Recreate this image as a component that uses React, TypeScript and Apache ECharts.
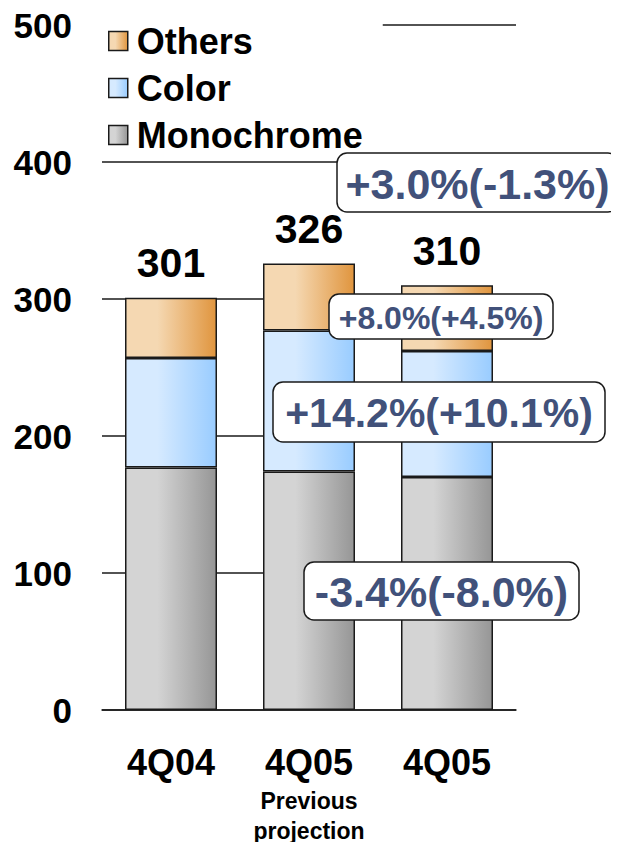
import React, { useEffect, useRef } from "react";
import * as echarts from "echarts";

const categories = ["4Q04", "4Q05", "4Q05"];
const subLabels = ["", "Previous\nprojection", ""];
const monochrome = [177, 174, 170];
const color = [80, 103, 92];
const others = [44, 49, 48];
const totals = [301, 326, 310];
const yTicks = [0, 100, 200, 300, 400, 500];
const annotations = [
  { text: "+3.0%(-1.3%)", x: 337, y: 153, w: 281, h: 59, size: 43 },
  { text: "+8.0%(+4.5%)", x: 329, y: 294, w: 224, h: 45, size: 32 },
  { text: "+14.2%(+10.1%)", x: 273, y: 382, w: 332, h: 60, size: 41 },
  { text: "-3.4%(-8.0%)", x: 304, y: 562, w: 275, h: 58, size: 43 },
];

const FONT = "'Liberation Sans', Arial, sans-serif";

const grad = (a: string, b: string) =>
  new echarts.graphic.LinearGradient(0, 0, 1, 0, [
    { offset: 0, color: a },
    { offset: 0.35, color: a },
    { offset: 1, color: b },
  ]);

export default function App() {
  const ref = useRef<HTMLDivElement>(null);
  useEffect(() => {
    if (!ref.current) return;
    const chart = echarts.init(ref.current, null, { renderer: "svg" });
    const barBase = {
      type: "bar" as const,
      stack: "total",
      barWidth: 92,
    };
    const borderStyle = { borderColor: "#1a1a1a", borderWidth: 1.5 };
    chart.setOption({
      animation: false,
      backgroundColor: "#fff",
      grid: { left: 102, right: 103, top: 25, bottom: 140 },
      legend: {
        orient: "vertical",
        left: 100,
        top: 6,
        padding: [15, 20, 2, 8],
        backgroundColor: "#fff",
        icon: "rect",
        itemWidth: 19,
        itemHeight: 19,
        itemGap: 7,
        selectedMode: false,
        data: ["Others", "Color", "Monochrome"],
        itemStyle: { borderColor: "#1a1a1a", borderWidth: 1.5 },
        textStyle: {
          fontFamily: FONT,
          fontWeight: "bold",
          fontSize: 36,
          color: "#000",
          lineHeight: 40,
          padding: [0, 0, 0, 4],
        },
      },
      xAxis: {
        type: "category",
        data: categories,
        axisLine: { lineStyle: { color: "#1a1a1a", width: 1.5 } },
        axisTick: { inside: true, length: 11, lineStyle: { color: "#1a1a1a", width: 1.5 } },
        axisLabel: {
          margin: 28,
          formatter: (v: string, i: number) =>
            subLabels[i]
              ? `{a|${v}}\n` + subLabels[i].split("\n").map((s) => `{b|${s}}`).join("\n")
              : `{a|${v}}`,
          rich: {
            a: { fontFamily: FONT, fontWeight: "bold", fontSize: 36, lineHeight: 48, color: "#000" },
            b: { fontFamily: FONT, fontWeight: "bold", fontSize: 23, lineHeight: 30, color: "#000" },
          },
        },
      },
      yAxis: {
        type: "value",
        min: 0,
        max: 500,
        interval: 100,
        axisLine: { show: false },
        axisTick: { show: false },
        splitLine: { lineStyle: { color: "#1a1a1a", width: 1.5 } },
        axisLabel: {
          margin: 30,
          fontFamily: FONT,
          fontWeight: "bold",
          fontSize: 35,
          color: "#000",
          formatter: (v: number) => (yTicks.includes(v) ? String(v) : ""),
        },
      },
      series: [
        {
          ...barBase,
          name: "Monochrome",
          data: monochrome,
          itemStyle: { color: grad("#d4d4d4", "#969696"), ...borderStyle },
        },
        {
          ...barBase,
          name: "Color",
          data: color,
          itemStyle: { color: grad("#d6eaff", "#99ccff"), ...borderStyle },
        },
        {
          ...barBase,
          name: "Others",
          data: others,
          itemStyle: { color: grad("#f5d8b2", "#e0953e"), ...borderStyle },
          label: {
            show: true,
            position: "top",
            distance: 14,
            formatter: (p: any) => String(totals[p.dataIndex]),
            fontFamily: FONT,
            fontWeight: "bold",
            fontSize: 41,
            color: "#000",
          },
        },
      ],
      graphic: annotations.map((a) => ({
        type: "group",
        x: a.x,
        y: a.y,
        children: [
          {
            type: "rect",
            z: 100,
            shape: { x: 0, y: 0, width: a.w, height: a.h, r: 10 },
            style: { fill: "#fff", stroke: "#1a1a1a", lineWidth: 1.5 },
          },
          {
            type: "text",
            z: 101,
            x: a.w / 2,
            y: a.h / 2 + 1,
            style: {
              text: a.text,
              fill: "#41517a",
              font: `bold ${a.size}px ${FONT}`,
              textAlign: "center",
              textVerticalAlign: "middle",
            },
          },
        ],
      })),
    });
    return () => chart.dispose();
  }, []);
  return <div ref={ref} style={{ width: 619, height: 850, margin: -8 }} />;
}
